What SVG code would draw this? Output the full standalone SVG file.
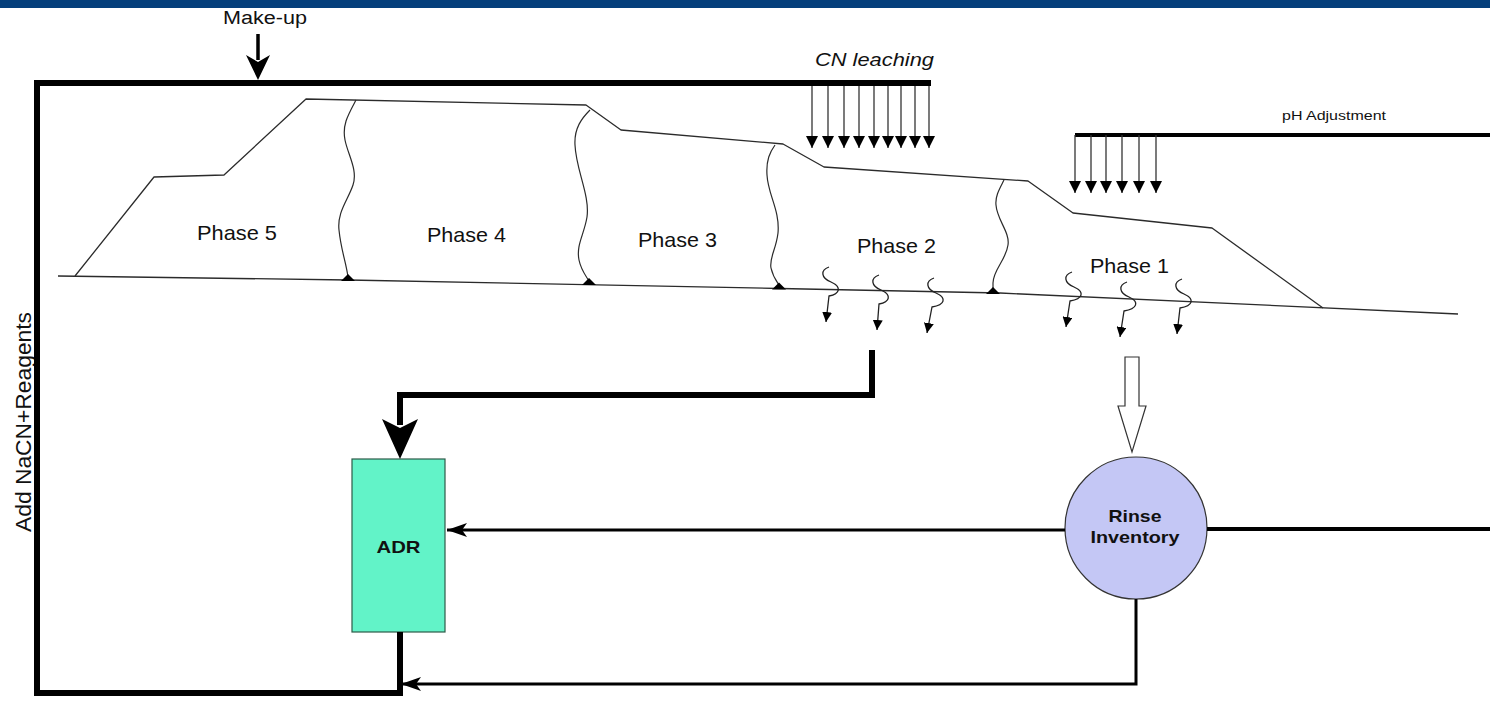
<svg xmlns="http://www.w3.org/2000/svg" width="1490" height="701" viewBox="0 0 1490 701">
  <style>
    .txt { font-family: "Liberation Sans", Arial, sans-serif; fill: #111; }
    .phase { font-size: 21px; }
    .bold { font-weight: bold; }
    .heap { fill: none; stroke: #2b2b2b; stroke-width: 1.3; stroke-linejoin: round; }
    .div { fill: none; stroke: #2b2b2b; stroke-width: 1.2; }
    .foot { fill: #000; }
    .feed { stroke: #333; stroke-width: 1.3; }
    .seep { fill: none; stroke: #222; stroke-width: 1.3; }
    .pipe { fill: none; stroke: #000; stroke-width: 6; stroke-linejoin: miter; }
    .pipe-m { fill: none; stroke: #000; stroke-width: 4; }
    .pipe-s { fill: none; stroke: #000; stroke-width: 3; }
  </style>
  <defs>
    <marker id="drip" viewBox="0 0 12 12" refX="12" refY="6" markerWidth="12" markerHeight="12" markerUnits="userSpaceOnUse" orient="auto">
      <path d="M0,0 L12,6 L0,12 Z" fill="#000"/>
    </marker>
    <marker id="seepHead" viewBox="0 0 10 10" refX="10" refY="5" markerWidth="10" markerHeight="10" markerUnits="userSpaceOnUse" orient="auto">
      <path d="M0,0 L10,5 L0,10 Z" fill="#000"/>
    </marker>
    <marker id="stealth" viewBox="0 0 20 14" refX="20" refY="7" markerWidth="20" markerHeight="14" markerUnits="userSpaceOnUse" orient="auto">
      <path d="M0,0 L20,7 L0,14 L5,7 Z" fill="#000"/>
    </marker>
  </defs>

  <rect width="1490" height="701" fill="#fff"/>
  <!-- header band -->
  <rect x="0" y="0" width="1490" height="8" fill="#053f7b"/>

  <!-- heap profile -->
  <g id="heap">
    <polyline class="heap" points="58,276 348,280 780,288.5 1000,293 1458,314"/>
    <polyline class="heap" points="75,276 154,177 224,175 306,99 586,105 621,130 783,144 824,167 1028,181 1073,213 1212,228 1323,308"/>
  </g>

  <!-- phase dividers with toe markers -->
  <g id="dividers">
    <path class="div" d="M356,100 C348,115 342,125 345,140 C348,155 358,170 353,185 C348,200 337,212 339,230 C341,250 346,262 348,277"/>
    <path class="div" d="M590,110 C582,118 574,128 575,145 C576,170 590,195 587,217 C584,235 576,245 579,260 C581,270 586,276 589,281"/>
    <path class="div" d="M775,145 C770,152 766,160 767,175 C768,195 780,210 778,233 C776,250 769,258 771,268 C773,277 777,282 779,285"/>
    <path class="div" d="M1004,180 C1000,188 995,196 996,205 C997,220 1010,232 1008,245 C1006,260 993,270 993,283 L993,290"/>
    <polygon class="foot" points="341,281 355,281 348,274"/>
    <polygon class="foot" points="582,285 596,285 589,278"/>
    <polygon class="foot" points="772,289.5 786,289.5 779,282.5"/>
    <polygon class="foot" points="986,294 1000,294 993,287"/>
  </g>

  <g id="phase5"><text class="txt phase" x="197" y="240" textLength="80" lengthAdjust="spacingAndGlyphs">Phase 5</text></g>
  <g id="phase4"><text class="txt phase" x="427" y="242" textLength="79" lengthAdjust="spacingAndGlyphs">Phase 4</text></g>
  <g id="phase3"><text class="txt phase" x="638" y="247" textLength="79" lengthAdjust="spacingAndGlyphs">Phase 3</text></g>
  <g id="phase2"><text class="txt phase" x="857" y="253" textLength="79" lengthAdjust="spacingAndGlyphs">Phase 2</text></g>
  <g id="phase1"><text class="txt phase" x="1090" y="273" textLength="79" lengthAdjust="spacingAndGlyphs">Phase 1</text></g>

  <!-- cyanide leaching sprinklers -->
  <g id="cn-leaching">
    <text class="txt" x="815" y="66" font-size="18" font-style="italic" textLength="119" lengthAdjust="spacingAndGlyphs">CN leaching</text>
    <g class="feed" marker-end="url(#drip)">
      <line x1="812" y1="83" x2="812" y2="148"/>
      <line x1="828" y1="83" x2="828" y2="148"/>
      <line x1="844" y1="83" x2="844" y2="148"/>
      <line x1="859" y1="83" x2="859" y2="148"/>
      <line x1="874" y1="83" x2="874" y2="148"/>
      <line x1="888" y1="83" x2="888" y2="148"/>
      <line x1="901" y1="83" x2="901" y2="148"/>
      <line x1="915" y1="83" x2="915" y2="148"/>
      <line x1="929" y1="83" x2="929" y2="148"/>
    </g>
  </g>

  <!-- pH adjustment sprinklers -->
  <g id="ph-adjustment">
    <text class="txt" x="1282" y="120" font-size="13" textLength="104" lengthAdjust="spacingAndGlyphs">pH Adjustment</text>
    <line class="pipe-m" x1="1075" y1="135" x2="1490" y2="135"/>
    <g class="feed" marker-end="url(#drip)">
      <line x1="1075" y1="135" x2="1075" y2="193"/>
      <line x1="1091" y1="135" x2="1091" y2="193"/>
      <line x1="1106" y1="135" x2="1106" y2="193"/>
      <line x1="1122" y1="135" x2="1122" y2="193"/>
      <line x1="1139" y1="135" x2="1139" y2="193"/>
      <line x1="1156" y1="135" x2="1156" y2="193"/>
    </g>
  </g>

  <!-- seepage through the liner -->
  <g id="seepage" class="seep" marker-end="url(#seepHead)">
    <path d="M829,267 C820,270 821,278 831,282 C842,287 840,294 829,296 L826,322"/>
    <path d="M879,275 C870,278 871,286 881,290 C892,295 890,302 879,304 L877,330"/>
    <path d="M934,278 C925,281 926,289 936,293 C947,298 945,305 932,307 L927,333"/>
    <path d="M1072,272 C1063,275 1064,283 1074,287 C1085,292 1083,299 1070,301 L1066,327"/>
    <path d="M1127,282 C1118,285 1119,293 1129,297 C1140,302 1137,309 1124,311 L1120,337"/>
    <path d="M1182,279 C1173,282 1174,290 1184,294 C1195,299 1193,306 1180,308 L1177,334"/>
  </g>

  <!-- process nodes -->
  <g id="adr">
    <rect x="352" y="459" width="93" height="173" fill="#62f3c8" stroke="#2d5a48" stroke-width="1.2"/>
    <text class="txt bold" x="398.5" y="553" font-size="17" text-anchor="middle" textLength="44" lengthAdjust="spacingAndGlyphs">ADR</text>
  </g>
  <g id="rinse-inventory">
    <circle cx="1136" cy="528" r="71" fill="#c4c7f5" stroke="#333" stroke-width="1.2"/>
    <text class="txt bold" x="1135" y="522" font-size="17" text-anchor="middle" textLength="53" lengthAdjust="spacingAndGlyphs">Rinse</text>
    <text class="txt bold" x="1135" y="543" font-size="17" text-anchor="middle" textLength="89" lengthAdjust="spacingAndGlyphs">Inventory</text>
  </g>
  <g id="makeup">
    <text class="txt" x="223" y="24" font-size="18" textLength="84" lengthAdjust="spacingAndGlyphs">Make-up</text>
  </g>
  <g id="reagents">
    <text class="txt" transform="translate(31,422) rotate(-90)" x="0" y="0" font-size="22" text-anchor="middle" textLength="220" lengthAdjust="spacingAndGlyphs">Add NaCN+Reagents</text>
  </g>

  <!-- connectors -->
  <g id="connectors">
    <!-- barren solution loop -->
    <polyline class="pipe" points="931,83 37,83 37,693 400,693 400,632"/>
    <!-- make-up feed -->
    <line x1="258" y1="34" x2="258" y2="60" stroke="#000" stroke-width="3.5"/>
    <path d="M246,55 L258,80 L270,55 L258,62 Z" fill="#000"/>
    <!-- pregnant solution to ADR -->
    <polyline class="pipe" points="872,350 872,395 400,395 400,425"/>
    <path d="M382,419 L400,459 L418,419 L400,428 Z" fill="#000"/>
    <!-- rinse draining to inventory -->
    <path d="M1125,357 L1139,357 L1139,406 L1146,406 L1132,452 L1118,406 L1125,406 Z" fill="#fff" stroke="#333" stroke-width="1.2"/>
    <!-- rinse inventory links -->
    <line class="pipe-s" x1="1065" y1="530" x2="447" y2="530" marker-end="url(#stealth)"/>
    <line class="pipe-m" x1="1207" y1="529" x2="1490" y2="529"/>
    <polyline class="pipe-s" points="1136,599 1136,684 401,684" marker-end="url(#stealth)"/>
  </g>
</svg>
